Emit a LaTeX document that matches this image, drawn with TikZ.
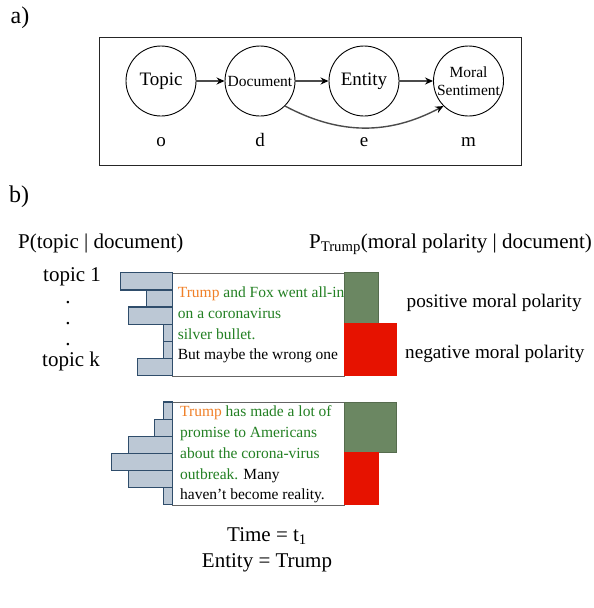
\documentclass[tikz,border=0pt]{standalone}
\usepackage{fontspec}
\setmainfont{Liberation Serif}
\usetikzlibrary{arrows.meta, positioning}

\definecolor{flowgray}{RGB}{75,75,75}
\definecolor{boxgray}{RGB}{100,100,100}
\definecolor{barfill}{RGB}{188,200,213}
\definecolor{barline}{RGB}{47,77,107}
\definecolor{posgreen}{RGB}{107,135,98}
\definecolor{negred}{RGB}{230,18,0}
\definecolor{trumporange}{RGB}{240,128,40}
\definecolor{txtgreen}{RGB}{35,128,35}

\newcommand{\fsz}[2]{\fontsize{#1}{#2}\selectfont}

\begin{document}
\begin{tikzpicture}
	[%
	x=1pt, y=1pt,
	varnode/.style ={circle,		draw=black,		line width=0.9pt,	inner sep=0pt,	minimum size=70pt,	font=\fsz{19}{22}},%
	smallvar/.style={font=\fsz{15.5}{17.6},	align=center},%
	flow/.style    ={draw=flowgray,	line width=1.4pt,	-{Stealth[length=8pt, width=7pt, color=black]}},%
	panel/.style   ={rectangle,	draw=black!85,	line width=1pt,	minimum width=422pt,	minimum height=128pt},%
	docbox/.style  ={rectangle,	draw=boxgray,	fill=white,	line width=1pt,	minimum width=171.6pt,	minimum height=102.7pt},%
	topicbar/.style={draw=barline,	fill=barfill,	line width=1.2pt},%
	posbar/.style  ={draw=posgreen!80!black,	fill=posgreen,	line width=0.8pt},%
	negbar/.style  ={draw=negred,	fill=negred,	line width=0.8pt},%
	doctext/.style ={anchor=base west,	inner sep=0pt,	font=\fsz{15.5}{20.8}},%
	txt/.style     ={inner sep=0pt,	font=\fsz{21}{24}},%
	]

	\useasboundingbox (0,0) rectangle (594,-608);

	\newcommand{\xtopic}{161}
	\newcommand{\xdoc}{260}
	\newcommand{\xent}{364}
	\newcommand{\xmoral}{468.5}
	\newcommand{\ystate}{-81}

	% a) graphical model
	\node[txt, font=\fsz{24}{26}] (taga) at (20,-18) {a)};
	\node[panel] (panela) at (310,-101) {};

	\node[varnode]				(topic)		at (\xtopic,\ystate)	{Topic};
	\node[varnode, smallvar]	(document)	at (\xdoc,\ystate)		{Document};
	\node[varnode]				(entity)	at (\xent,\ystate)		{Entity};
	\node[varnode, smallvar]	(moral)		at (\xmoral,\ystate)	{Moral\\Sentiment};

	\foreach \v/\x in {o/\xtopic, d/\xdoc, e/\xent, m/\xmoral}%
		\node[anchor=base, inner sep=0pt, font=\fsz{19}{22}] (var\v) at (\x,-146.5) {\v};

	% interconnections
	\draw [flow] (topic) -- (document);
	\draw [flow] (document) -- (entity);
	\draw [flow] (entity) -- (moral);
	\draw [flow] (document.-45) to [out=-28, in=208] (moral.-135);

	% b) illustration
	\node[txt, font=\fsz{24}{26}] (tagb) at (19,-196.5) {b)};
	\node[txt, anchor=base west] (ptopic) at (18,-248.5) {P(topic | document)};
	\node[txt, anchor=base west] (pmoral) at (309,-248.5) {P\textsubscript{Trump}(moral polarity | document)};

	\node[txt, anchor=base west] (topicfirst) at (43,-281.5) {topic 1};
	\foreach \y [count=\k] in {-303.5,-324.5,-345.5}%
		\node[txt, anchor=base] (topicdot\k) at (68,\y) {.};
	\node[txt, anchor=base west] (topiclast) at (42,-366.5) {topic k};

	\node[txt, font=\fsz{19.2}{22}, anchor=base west] (poslbl) at (406.5,-307) {positive moral polarity};
	\node[txt, font=\fsz{19.2}{22}, anchor=base west] (neglbl) at (405,-358) {negative moral polarity};

	% documents
	\node[docbox] (doca) at (258.5,-324.7) {};
	\node[docbox] (docb) at (258.5,-453.9) {};

	\foreach \line [count=\k from 0] in {%
		{\textcolor{trumporange}{Trump} \textcolor{txtgreen}{and Fox went all-in}},
		{\textcolor{txtgreen}{on a coronavirus}},
		{\textcolor{txtgreen}{silver bullet.}},
		{But maybe the wrong one}}%
		\node[doctext] (texta\k) at (177.7,-297.5-20.8*\k) {\line};

	\foreach \line [count=\k from 0] in {%
		{\textcolor{trumporange}{Trump} \textcolor{txtgreen}{has made a lot of}},
		{\textcolor{txtgreen}{promise to Americans}},
		{\textcolor{txtgreen}{about the corona-virus}},
		{\textcolor{txtgreen}{outbreak.} Many},
		{haven’t become reality.}}%
		\node[doctext] (textb\k) at (180,-416.7-20.8*\k) {\line};

	% topic bars
	\foreach \w [count=\k from 0] in {52,26,43.4,8.7,8.7,35}%
		\filldraw [topicbar] ([yshift={-17.12*\k}]doca.north west) rectangle ++(-\w,-17.12);
	\foreach \w [count=\k from 0] in {8.7,17.7,43.4,60.4,43.4,8.7}%
		\filldraw [topicbar] ([yshift={-17.05*\k}]docb.north west) rectangle ++(-\w,-17.05);

	% moral polarity
	\filldraw [posbar] (doca.north east) rectangle ++(34,-50.7);
	\filldraw [negbar] ([yshift=-50.7]doca.north east) rectangle ++(51.7,-52);
	\filldraw [posbar] (docb.north east) rectangle ++(51.7,-50.6);
	\filldraw [negbar] ([yshift=-50.6]docb.north east) rectangle ++(34,-51.7);

	\node[txt, anchor=base] (timelbl) at (267,-541.5) {Time = t\textsubscript{1}};
	\node[txt, anchor=base] (entlbl) at (267,-567.5) {Entity = Trump};

\end{tikzpicture}
\end{document}
